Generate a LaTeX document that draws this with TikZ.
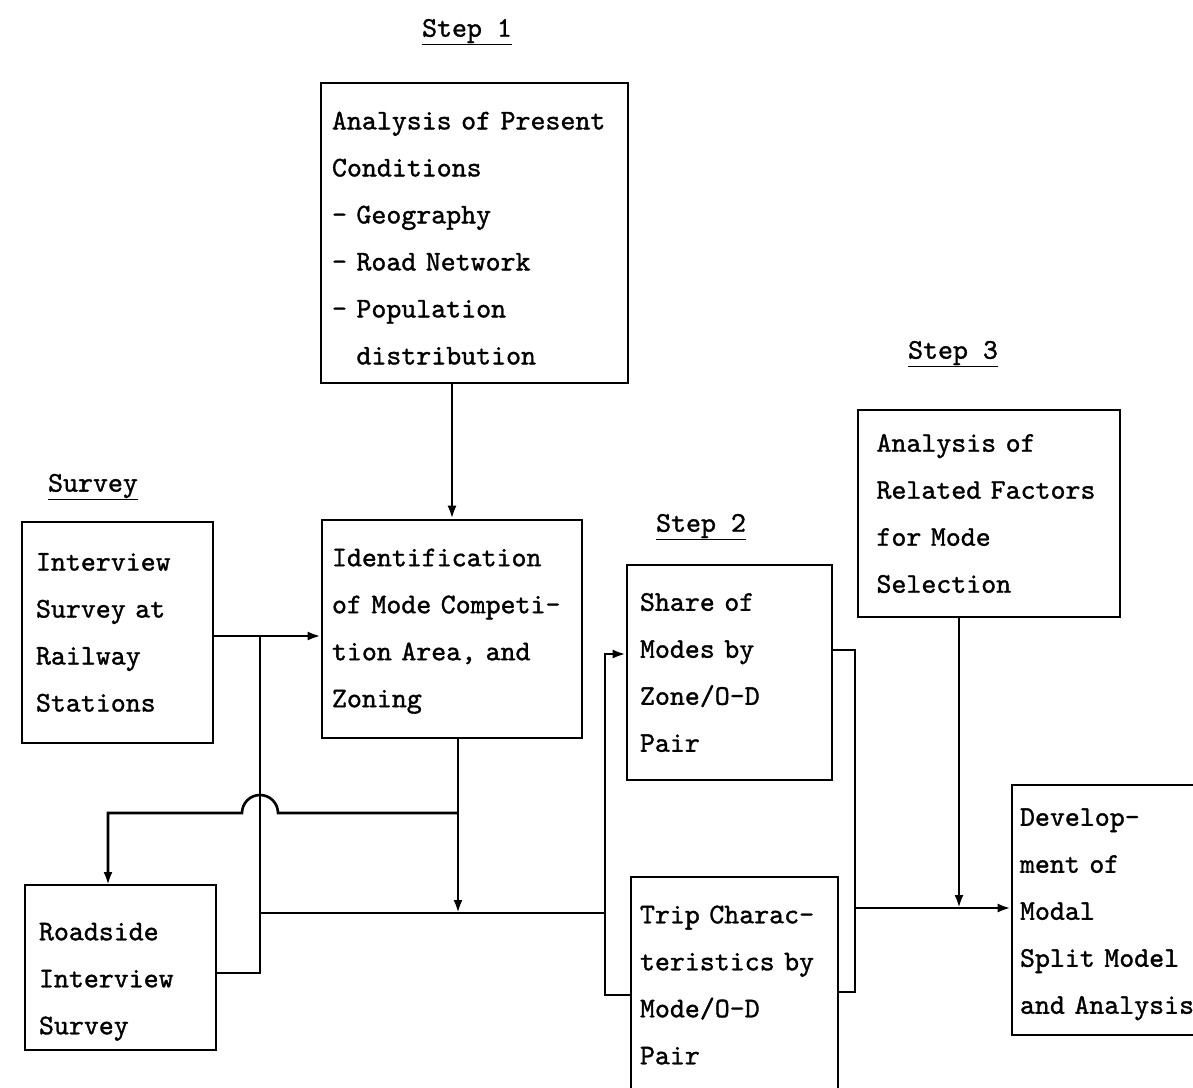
\documentclass[tikz,border=0pt]{standalone}
\usepackage{fontspec}
\newfontfamily\typewriter{lmmono10-regular.otf}[FakeBold=1.2]
\usetikzlibrary{arrows.meta}
\tikzset{
  box/.style={draw, line width=2.6pt, rectangle, inner sep=0pt, align=left,
    font=\fontsize{28.5}{47}\selectfont\typewriter},
  steplabel/.style={font=\fontsize{28.5}{34}\selectfont\typewriter},
  flow/.style={line width=2.6pt},
  arr/.style={flow, -{Latex[length=13pt,width=9pt]}}
}

\begin{document}
\begin{tikzpicture}[x=1pt,y=-1pt]
        \useasboundingbox (0,0) rectangle (1193,1087);
        \clip (0,0) rectangle (1193,1087);

        % Headings
        \node[steplabel] (step1) at (467,32) {\underline{Step 1}};
        \node[steplabel] (survey) at (93,487) {\underline{Survey}};
        \node[steplabel] (step2) at (701,527) {\underline{Step 2}};
        \node[steplabel] (step3) at (953,354) {\underline{Step 3}};

        % Boxes
        \node[box, minimum width=307, minimum height=300, text width=285] (present) at (474.5,233)
          {\rule{0pt}{28pt}Analysis of Present\\Conditions\\- Geography\\- Road Network\\- Population\\\hphantom{- }distribution};
        \node[box, minimum width=191, minimum height=221, text width=163] (interview) at (117.5,632.5)
          {Interview\\Survey at\\Railway\\Stations};
        \node[box, minimum width=260, minimum height=218, text width=240] (ident) at (452,629)
          {\rule{0pt}{22pt}Identification\\of Mode Competi-\\tion Area, and\\Zoning};
        \node[box, minimum width=205, minimum height=215, text width=179] (share) at (729.5,672.5)
          {Share of\\Modes by\\Zone/O-D\\Pair};
        \node[box, minimum width=262, minimum height=207, text width=225] (related) at (989,513.5)
          {Analysis of\\Related Factors\\for Mode\\Selection};
        \node[box, minimum width=207, minimum height=216, text width=189] (trip) at (734.5,985)
          {Trip Charac-\\teristics by\\Mode/O-D\\Pair};
        \node[box, minimum width=220, minimum height=250, text width=204] (dev) at (1122,910)
          {\rule{0pt}{26pt}Develop-\\ment of\\Modal\\Split Model\\and Analysis};
        \node[box, minimum width=191, minimum height=165, text width=163] (roadside) at (120.5,967.5)
          {\rule{0pt}{46pt}Roadside\\Interview\\Survey};

        % Junction points
        \coordinate (railTop) at (260,636);
        \coordinate (railBot) at (260,973);
        \coordinate (busW) at (260,913);
        \coordinate (busE) at (605,913);
        \coordinate (tap) at (458,813);
        \coordinate (drop) at (108,885);
        \coordinate (lbTop) at (605,654);
        \coordinate (lbBot) at (605,995);
        \coordinate (rbTop) at (855,650);
        \coordinate (rbBot) at (855,992);
        \coordinate (outJ) at (855,908);

        % Step 1 flow
        \draw[arr] (ident.north |- present.south) -- (ident.north);
        \draw[arr] (railTop -| interview.east) -- (railTop -| ident.west);
        \draw[flow] (railTop) -- (railBot) -- (railBot -| roadside.east);
        \draw[flow] (busW) -- (busE);
        \draw[arr] (tap |- ident.south) -- (tap |- busW);
        \draw[arr] (tap) -- ([xshift=18pt]tap -| railTop) arc[start angle=0, end angle=180, radius=18pt]
          -- (tap -| drop) -- (drop);

        % Step 2 flow
        \draw[arr] (lbBot -| trip.west) -- (lbBot) -- (lbTop) -- (lbTop -| share.west);
        \draw[flow] (share.east |- rbTop) -- (rbTop) -- (rbBot) -- (rbBot -| trip.east);

        % Step 3 flow
        \draw[arr] (outJ) -- (outJ -| dev.west);
        \draw[arr] ([xshift=-30pt]related.south) -- ([xshift=-30pt]related.south |- outJ);
\end{tikzpicture}
\end{document}
